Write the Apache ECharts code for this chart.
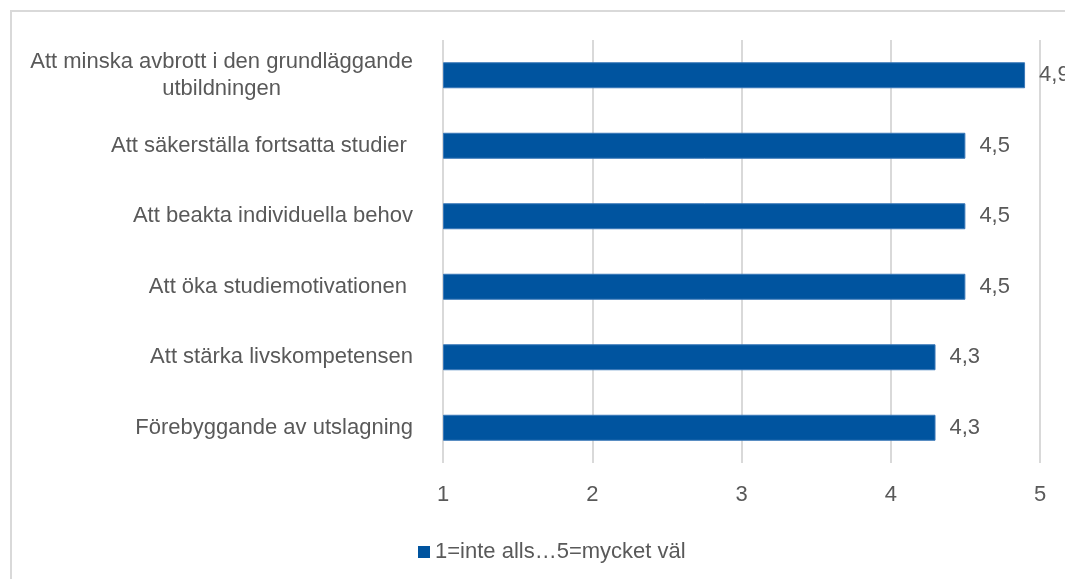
<!DOCTYPE html>
<html>
<head>
<meta charset="utf-8">
<script src="https://cdn.jsdelivr.net/npm/echarts@6/dist/echarts.min.js"></script>
<style>
  html, body { margin: 0; padding: 0; background: #fff; }
  #frame {
    position: absolute; left: 10px; top: 10px;
    width: 1100px; height: 620px;
    border: 2px solid #d9d9d9; box-sizing: border-box;
  }
  #chart { position: absolute; left: 0; top: 0; width: 1065px; height: 579px; }
</style>
</head>
<body>
<div id="frame"></div>
<div id="chart"></div>
<script>
const categories = [
  'Att minska avbrott i den grundläggande\nutbildningen',
  'Att säkerställa fortsatta studier ',
  'Att beakta individuella behov',
  'Att öka studiemotivationen ',
  'Att stärka livskompetensen',
  'Förebyggande av utslagning',
];
const values = [4.9, 4.5, 4.5, 4.5, 4.3, 4.3];
const seriesName = '1=inte alls…5=mycket väl';
const xTicks = [1, 2, 3, 4, 5];

const textColor = '#595959';
const fontFamily = '"Liberation Sans", Arial, sans-serif';
const fontSize = 22;

const chart = echarts.init(document.getElementById('chart'));
chart.setOption({
  animation: false,
  textStyle: { fontFamily: fontFamily },
  grid: { left: 443, right: 25, top: 40, bottom: 116, containLabel: false },
  legend: {
    data: [{ name: seriesName, icon: 'rect', itemStyle: { borderWidth: 0 } }],
    left: 413,
    top: 536,
    itemWidth: 12,
    itemHeight: 12,
    itemGap: 6,
    textStyle: { color: textColor, fontSize: fontSize, fontFamily: fontFamily },
  },
  xAxis: {
    type: 'value',
    min: xTicks[0],
    max: xTicks[xTicks.length - 1],
    interval: 1,
    startValue: 1,
    axisLine: { show: false },
    axisTick: { show: false },
    axisLabel: { color: textColor, fontSize: fontSize, margin: 21 },
    splitLine: { lineStyle: { color: '#d9d9d9', width: 2 } },
  },
  yAxis: {
    type: 'category',
    inverse: true,
    data: categories,
    axisLine: { show: false },
    axisTick: { show: false },
    axisLabel: {
      margin: 30,
      color: textColor,
      fontSize: fontSize,
      lineHeight: 27,
      formatter: function (v) {
        return v.split('\n').map(function (s) { return '{c|' + s + '}'; }).join('\n');
      },
      rich: { c: { align: 'center', color: textColor, fontSize: fontSize, fontFamily: fontFamily, lineHeight: 27 } },
    },
  },
  series: [{
    name: seriesName,
    type: 'bar',
    data: values,
    barWidth: 26,
    clip: true,
    itemStyle: { color: '#00549f', borderColor: '#3a78b8', borderWidth: 1 },
    label: {
      show: true,
      position: 'right',
      distance: 14,
      color: textColor,
      fontSize: fontSize,
      formatter: function (p) { return String(p.value).replace('.', ','); },
    },
  }],
});
</script>
</body>
</html>
